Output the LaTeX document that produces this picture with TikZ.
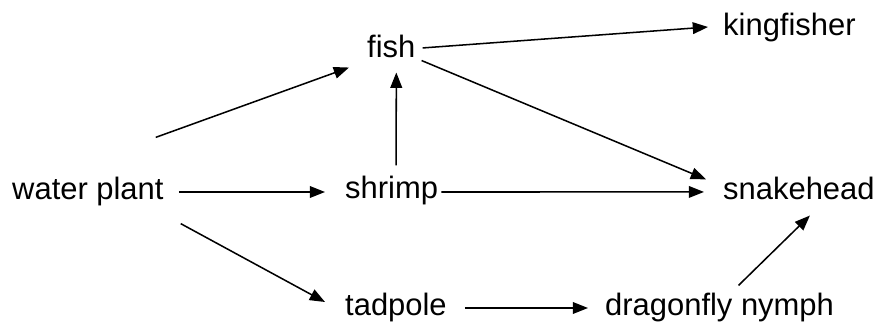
\documentclass[tikz,border=0pt]{standalone}
\usepackage{fontspec}
\setmainfont{Liberation Sans}
\usepackage{tikz}
\usetikzlibrary{arrows.meta}

\begin{document}
\begin{tikzpicture}[
    x=0.03cm, y=-0.03cm,
    species/.style={anchor=base west, inner sep=0pt, font=\fontsize{26.4pt}{30pt}\selectfont},
    arrow/.style={-{Triangle[length=13pt, width=10pt]}, line width=1.3pt},
  ]
    \useasboundingbox (0,0) rectangle (879,327);
    \node[species] (plant)  at (12,199)  {water plant};
    \node[species] (fish)   at (367,57)  {fish};
    \node[species] (king)   at (723,35)  {kingfisher};
    \node[species] (shrimp) at (345,198) {shrimp};
    \node[species] (snake)  at (723,199) {snakehead};
    \node[species] (tad)    at (345,315) {tadpole};
    \node[species] (nymph)  at (605,315) {dragonfly nymph};
    \draw[arrow] ([shift={(-8,-39)}]plant.north east) -- ([shift={(-18,10)}]fish.south west);
    \draw[arrow] ([shift={(15,1)}]plant.east)         -- ([shift={(-20,2)}]shrimp.west);
    \draw[arrow] ([shift={(17,18)}]plant.south east)  -- ([shift={(-20,-5)}]tad.west);
    \draw[arrow] ([shift={(4.5,-10)}]shrimp.north)    -- ([shift={(5,15)}]fish.south);
    \draw[arrow] ([shift={(7,2)}]fish.east)           -- ([shift={(-15,0)}]king.west);
    \draw[arrow] ([shift={(6,3)}]fish.south east)     -- ([shift={(-17,3)}]snake.north west);
    \draw[arrow] ([shift={(3,2)}]shrimp.east)         -- ([shift={(-19,4)}]snake.west);
    \draw[arrow] ([shift={(18,1)}]tad.east)           -- ([shift={(-17,1)}]nymph.west);
    \draw[arrow] ([shift={(19,-7)}]nymph.north)       -- ([shift={(11,16)}]snake.south);
  \end{tikzpicture}
\end{document}
